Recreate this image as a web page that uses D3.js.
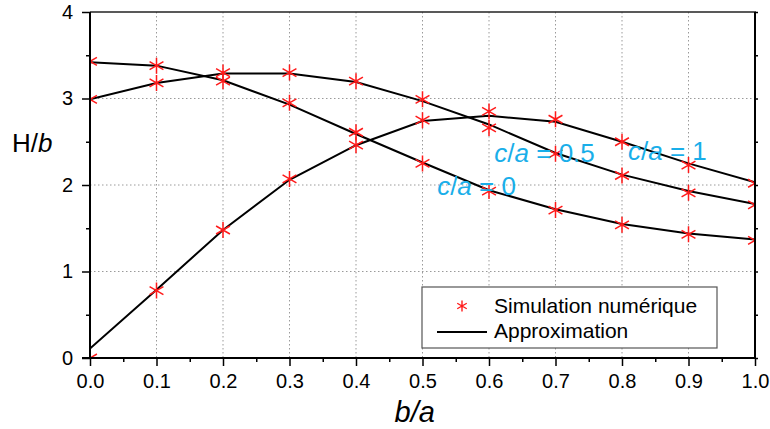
<!DOCTYPE html>
<html lang="fr">
<head>
    <meta charset="UTF-8">
    <title>H/b en fonction de b/a</title>
    <script src="https://d3js.org/d3.v7.min.js"></script>
</head>

<style>
    body {
        margin: 0;
        padding: 0;
        background: #fff;
    }

    svg {
        display: block;
        font-family: "Liberation Sans", Arial, sans-serif;
    }

    .grid line {
        stroke: #9a9a9a;
        stroke-width: 1px;
        stroke-dasharray: 1.5, 2.5;
    }

    .approx {
        fill: none;
        stroke: #000;
        stroke-width: 2px;
    }

    .sim path {
        fill: none;
        stroke: #ff1a1a;
        stroke-width: 1.5px;
    }
</style>

<body>
<div class="chart"></div>

<script>
  /** DATA */
  var ratioBA = [0.0, 0.1, 0.2, 0.3, 0.4, 0.5, 0.6, 0.7, 0.8, 0.9, 1.0];

  // simulation numérique (asterisks)
  var simC0  = [3.43, 3.38, 3.20, 2.95, 2.61, 2.25, 1.93, 1.71, 1.54, 1.43, 1.36];
  var simC05 = [2.99, 3.18, 3.30, 3.30, 3.20, 2.99, 2.66, 2.36, 2.11, 1.91, 1.77];
  var simC1  = [0.00, 0.78, 1.48, 2.07, 2.46, 2.75, 2.85, 2.76, 2.50, 2.23, 2.02];

  // approximation (black lines)
  var approxC0  = [3.42, 3.38, 3.21, 2.93, 2.59, 2.26, 1.94, 1.72, 1.55, 1.44, 1.37];
  var approxC05 = [2.99, 3.18, 3.29, 3.29, 3.19, 2.97, 2.70, 2.37, 2.12, 1.93, 1.78];
  var approxC1  = [0.11, 0.79, 1.48, 2.06, 2.46, 2.74, 2.80, 2.73, 2.50, 2.25, 2.03];

  var xTicks = [0.0, 0.1, 0.2, 0.3, 0.4, 0.5, 0.6, 0.7, 0.8, 0.9, 1.0];
  var yTicks = [0, 1, 2, 3, 4];

  var curveLabels = ['0', '0.5', '1'];

  /** LAYOUT */
  var width = 770, height = 429;
  var margin = {top: 12, right: 15, bottom: 71, left: 90};
  var plotW = width - margin.left - margin.right;
  var plotH = height - margin.top - margin.bottom;

  var x = d3.scaleLinear().domain([0, 1]).range([0, plotW]);
  var y = d3.scaleLinear().domain([0, 4]).range([plotH, 0]);

  var svg = d3.select('.chart').append('svg')
    .attr('width', width)
    .attr('height', height);

  var plot = svg.append('g')
    .attr('transform', 'translate(' + margin.left + ',' + margin.top + ')');

  svg.append('defs').append('clipPath')
    .attr('id', 'plot-clip')
    .append('rect')
    .attr('width', plotW)
    .attr('height', plotH);

  /** grid */
  plot.append('g').classed('grid', true)
    .selectAll('line')
    .data(xTicks.slice(1, -1))
    .enter().append('line')
    .attr('x1', function (d) { return x(d); })
    .attr('x2', function (d) { return x(d); })
    .attr('y1', 0)
    .attr('y2', plotH);

  plot.append('g').classed('grid', true)
    .selectAll('line')
    .data(yTicks.slice(1, -1))
    .enter().append('line')
    .attr('x1', 0)
    .attr('x2', plotW)
    .attr('y1', function (d) { return y(d); })
    .attr('y2', function (d) { return y(d); });

  /** asterisk marker path, 6 arms */
  function asterisk(r) {
    var t = r / 2, u = t * Math.sqrt(3);
    return 'M0,' + r + 'L0,' + (-r) +
      'M' + (-u) + ',' + (-t) + 'L' + u + ',' + t +
      'M' + (-u) + ',' + t + 'L' + u + ',' + (-t);
  }

  /** curves */
  var series = [
    {sim: simC0, approx: approxC0},
    {sim: simC05, approx: approxC05},
    {sim: simC1, approx: approxC1}
  ];

  var line = d3.line()
    .x(function (d, i) { return x(ratioBA[i]); })
    .y(function (d) { return y(d); });

  var inner = plot.append('g').attr('clip-path', 'url(#plot-clip)');

  series.forEach(function (s) {
    inner.append('path')
      .classed('approx', true)
      .attr('d', line(s.approx));
  });

  series.forEach(function (s) {
    inner.append('g').classed('sim', true)
      .selectAll('path')
      .data(s.sim)
      .enter().append('path')
      .attr('transform', function (d, i) {
        return 'translate(' + x(ratioBA[i]) + ',' + y(d) + ')';
      })
      .attr('d', asterisk(8));
  });

  /** axes */
  var xMinor = d3.range(0.05, 1, 0.1);
  var yMinor = d3.range(0.5, 4, 1);

  function styleAxis(g) {
    g.select('.domain').remove();
    g.selectAll('line').attr('stroke', '#000').attr('stroke-width', 1.5);
    g.selectAll('text').attr('fill', '#000').style('font-size', '20px');
  }

  plot.append('g')
    .attr('transform', 'translate(0,' + plotH + ')')
    .call(d3.axisBottom(x).tickValues(xTicks).tickSize(8).tickPadding(8)
      .tickFormat(d3.format('.1f')))
    .call(styleAxis);

  plot.append('g')
    .attr('transform', 'translate(0,' + plotH + ')')
    .call(d3.axisBottom(x).tickValues(xMinor).tickSize(4).tickFormat(''))
    .call(styleAxis);

  plot.append('g')
    .call(d3.axisLeft(y).tickValues(yTicks).tickSize(8).tickPadding(9)
      .tickFormat(d3.format('d')))
    .call(styleAxis);

  plot.append('g')
    .call(d3.axisLeft(y).tickValues(yMinor).tickSize(4).tickFormat(''))
    .call(styleAxis);

  plot.append('g')
    .attr('transform', 'translate(' + plotW + ',0)')
    .call(d3.axisRight(y).tickValues(d3.range(0, 4.01, 0.5)).tickSize(3).tickFormat(''))
    .call(styleAxis);

  // frame
  plot.append('line').attr('x1', 0).attr('x2', plotW + 1).attr('y1', 0).attr('y2', 0)
    .attr('stroke', '#222').attr('stroke-width', 1.5);
  plot.append('line').attr('x1', 0).attr('x2', 0).attr('y1', 0).attr('y2', plotH + 1)
    .attr('stroke', '#000').attr('stroke-width', 2);
  plot.append('line').attr('x1', -8).attr('x2', plotW + 1).attr('y1', plotH).attr('y2', plotH)
    .attr('stroke', '#000').attr('stroke-width', 2);
  plot.append('line').attr('x1', plotW).attr('x2', plotW).attr('y1', 0).attr('y2', plotH + 1)
    .attr('stroke', '#000').attr('stroke-width', 2);

  /** axis titles */
  var yTitle = svg.append('text')
    .attr('x', 12)
    .attr('y', 152)
    .style('font-size', '26px');
  yTitle.append('tspan').text('H/');
  yTitle.append('tspan').style('font-style', 'italic').text('b');

  var xTitle = svg.append('text')
    .attr('x', margin.left + x(0.5) - 28)
    .attr('y', 422)
    .style('font-size', '29px')
    .style('font-style', 'italic')
    .text('b/a');

  /** curve labels */
  var labelPos = [
    {px: 0.522, py: 1.88},
    {px: 0.608, py: 2.27},
    {px: 0.809, py: 2.29}
  ];

  curveLabels.forEach(function (lab, i) {
    var t = plot.append('text')
      .attr('x', x(labelPos[i].px))
      .attr('y', y(labelPos[i].py))
      .attr('fill', '#19aee9')
      .style('font-size', '26px');
    t.append('tspan').style('font-style', 'italic').text('c');
    t.append('tspan').text('/');
    t.append('tspan').style('font-style', 'italic').text('a');
    t.append('tspan').text(' = ' + lab);
  });

  /** legend */
  var legend = svg.append('g')
    .attr('transform', 'translate(422,287)');

  legend.append('rect')
    .attr('width', 295)
    .attr('height', 61)
    .attr('fill', '#fff')
    .attr('stroke', '#555')
    .attr('stroke-width', 1.2);

  legend.append('path')
    .attr('transform', 'translate(40,19)')
    .attr('d', asterisk(5.5))
    .attr('fill', 'none')
    .attr('stroke', '#ff1a1a')
    .attr('stroke-width', 1.4);

  legend.append('line')
    .attr('x1', 15).attr('x2', 65)
    .attr('y1', 45).attr('y2', 45)
    .attr('stroke', '#000')
    .attr('stroke-width', 2);

  legend.append('text')
    .attr('x', 72).attr('y', 26)
    .style('font-size', '21px')
    .text('Simulation numérique');

  legend.append('text')
    .attr('x', 72).attr('y', 51)
    .style('font-size', '21px')
    .text('Approximation');
</script>
</body>
</html>
